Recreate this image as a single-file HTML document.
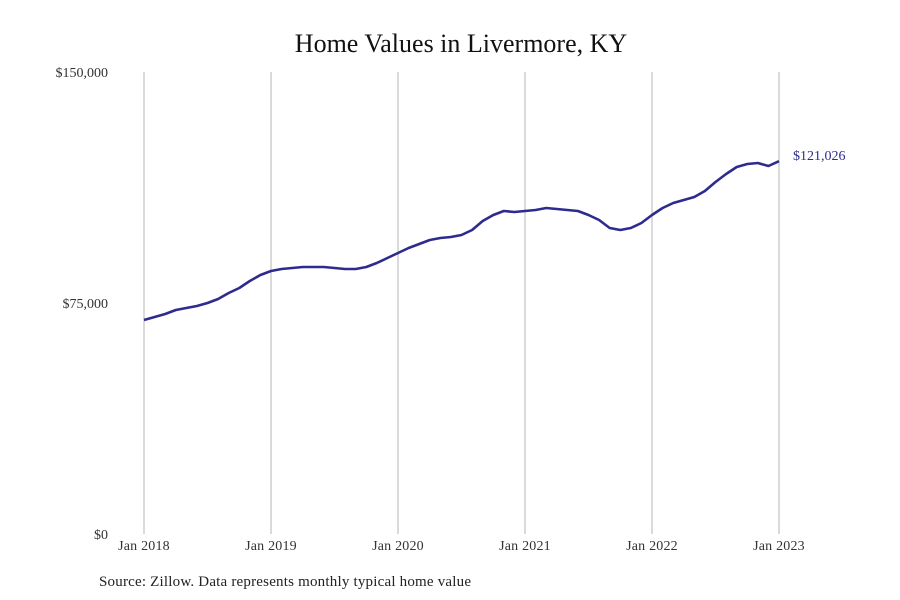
<!DOCTYPE html>
<html><head><meta charset="utf-8"><style>
body{margin:0;background:#fff;}
svg{display:block;font-family:"Liberation Serif",serif;}
</style></head><body>
<svg id="chart" width="900" height="600"></svg>
<script>
const yearLabels=["Jan 2018","Jan 2019","Jan 2020","Jan 2021","Jan 2022","Jan 2023"];
const yTicks=[0,75000,150000];
const yTickLabels=["$0","$75,000","$150,000"];
const values=[69481,70455,71429,72727,73377,74026,75000,76299,78247,79870,82143,84091,
85390,86039,86364,86688,86688,86688,86364,86039,86039,86688,87987,89610,
91234,92857,94156,95455,96104,96429,97078,98701,101623,103571,104870,104545,
104870,105195,105844,105519,105195,104870,103571,101948,99351,98701,99351,100974,
103571,105844,107468,108442,109416,111364,114286,116883,119156,120130,120455,119481,
121026];
const lastLabel="$121,026";
const NS="http://www.w3.org/2000/svg";
const svg=document.getElementById('chart');
const x0=144,x1=779,yTop=72,yBot=534;
const xm=i=>x0+(x1-x0)*i/(values.length-1);
const ys=v=>yBot-(v/150000)*(yBot-yTop);
function el(t,a,txt){const e=document.createElementNS(NS,t);for(const k in a)e.setAttribute(k,a[k]);if(txt!=null)e.textContent=txt;svg.appendChild(e);return e;}
const title=el('text',{x:461,y:52,'text-anchor':'middle','font-size':26,fill:'#111'},"Home Values in Livermore, KY");


yearLabels.forEach((l,i)=>{
  const x=xm(i*12);
  const g=el('line',{x1:x,x2:x,y1:yTop,y2:yBot,stroke:'#b5b5b5','stroke-width':1});
  
  
  const t=el('text',{x:x,y:550,'text-anchor':'middle','font-size':14,'letter-spacing':0.2,fill:'#333'},l);
  
  
});
yTicks.forEach((v,i)=>{
  const t=el('text',{x:108,y:ys(v)+5,'text-anchor':'end','font-size':14,fill:'#333'},yTickLabels[i]);
  
  
});
const d=values.map((v,i)=>(i?'L':'M')+xm(i).toFixed(1)+','+ys(v).toFixed(1)).join(' ');
const p=el('path',{d:d,fill:'none',stroke:'#2e2b8f','stroke-width':2.6,'stroke-linejoin':'round'});


const lv=el('text',{x:793,y:ys(values[values.length-1])-1,'font-size':14,fill:'#2e2b8f'},lastLabel);


const s=el('text',{x:99,y:586,'font-size':15,'letter-spacing':0.2,fill:'#222'},"Source: Zillow. Data represents monthly typical home value");


</script>
</body></html>
